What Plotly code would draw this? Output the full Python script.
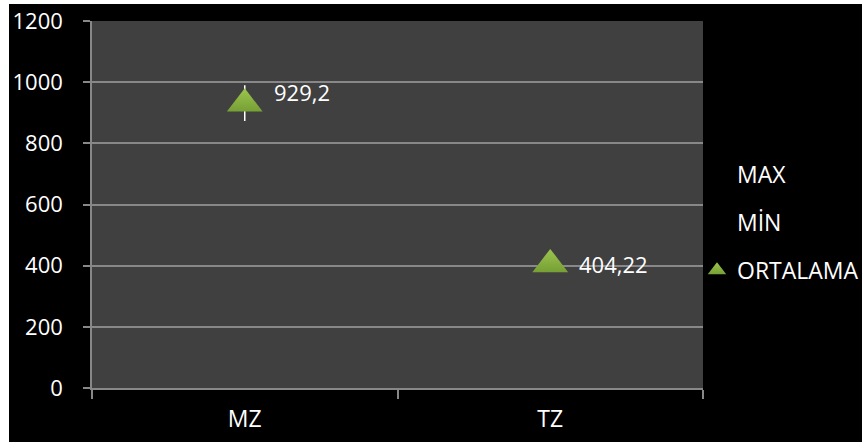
import plotly.graph_objects as go

categories = ["MZ", "TZ"]
max_vals = [990, 415]
min_vals = [873, 395]
avg_vals = [929.2, 404.22]
avg_labels = ["929,2", "404,22"]
y_ticks = [0, 200, 400, 600, 800, 1000, 1200]

W, H = 862, 444
L, R, T, B = 92, 159, 21, 56
pw, ph = W - L - R, H - T - B

def px_x(x):
    return (x - L) / pw

def px_y(y):
    return (H - B - y) / ph

font = "Open Sans, DejaVu Sans, sans-serif"
grid = "#888888"

fig = go.Figure()

# high-low lines
hx, hy = [], []
for c, mx, mn in zip(categories, max_vals, min_vals):
    hx += [c, c, None]
    hy += [mx, mn, None]
fig.add_trace(go.Scatter(x=hx, y=hy, mode="lines", line=dict(color="white", width=1.5),
                         showlegend=False, hoverinfo="skip"))

fig.add_trace(go.Scatter(x=categories, y=max_vals, mode="markers", name="MAX",
                         marker=dict(color="rgba(0,0,0,0)", size=1), legendgroup="a"))
fig.add_trace(go.Scatter(x=categories, y=min_vals, mode="markers", name="MİN",
                         marker=dict(color="rgba(0,0,0,0)", size=1), legendgroup="b"))
fig.add_trace(go.Scatter(x=categories, y=avg_vals, mode="markers", name="ORTALAMA",
                         marker=dict(symbol="triangle-up", size=31, color="#9CC44E",
                                     gradient=dict(type="vertical", color="#76A035"),
                                     line=dict(width=0)),
                         legendgroup="c"))

for c, v, t, ys in zip(categories, avg_vals, avg_labels, [12, 0]):
    fig.add_annotation(x=c, y=v, text=t, showarrow=False, xanchor="left", yanchor="middle",
                       xshift=27, yshift=ys, font=dict(family=font, size=22, color="white"))

fig.update_layout(
    width=W, height=H,
    margin=dict(l=L, r=R, t=T, b=B, autoexpand=False),
    paper_bgcolor="white",
    plot_bgcolor="#404040",
    showlegend=True,
    legend=dict(x=px_x(697), y=px_y(153), xanchor="left", yanchor="top",
                bgcolor="rgba(0,0,0,0)", font=dict(family=font, size=23, color="white"),
                tracegroupgap=15, traceorder="grouped"),
    shapes=[
        dict(type="rect", xref="paper", yref="paper", x0=px_x(9), x1=px_x(870),
             y0=px_y(442), y1=px_y(4), fillcolor="black", line=dict(width=0), layer="below"),
        dict(type="rect", xref="paper", yref="paper", x0=0, x1=1, y0=0, y1=1,
             fillcolor="#404040", line=dict(width=0), layer="below"),
    ],
    xaxis=dict(type="category", range=[-0.5, 1.5], showgrid=False, ticks="outside",
               tickson="boundaries", ticklen=9, tickcolor=grid, tickwidth=1.5,
               showline=True, linecolor=grid, linewidth=1.5,
               tickfont=dict(family=font, size=23, color="white"), ticklabelstandoff=10),
    yaxis=dict(range=[0, 1200], tickvals=y_ticks, showgrid=True, gridcolor=grid, gridwidth=1.5,
               zeroline=False, ticks="outside", ticklen=7, tickcolor=grid, tickwidth=1.5,
               showline=True, linecolor=grid, linewidth=1.5,
               tickfont=dict(family=font, size=22, color="white"), ticklabelstandoff=16),
)

fig.write_html("out.html")
